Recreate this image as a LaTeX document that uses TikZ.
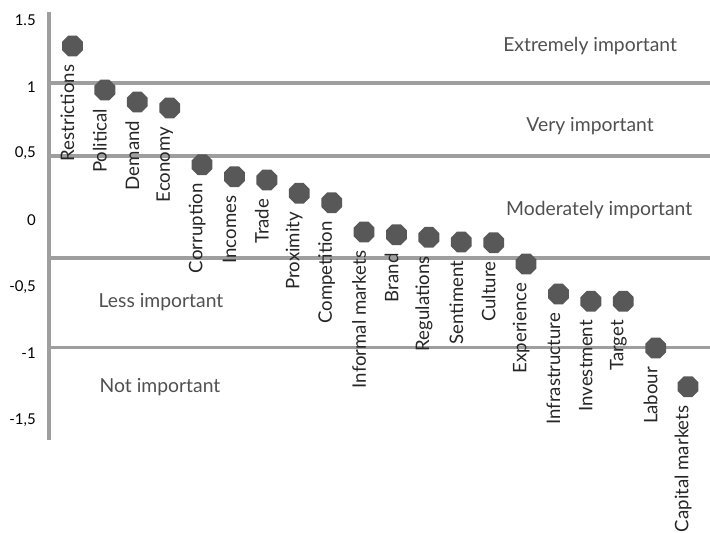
\documentclass[tikz,border=0pt]{standalone}
\usepackage{fontspec}
\setmainfont{Lato}
\usetikzlibrary{shapes.geometric}
\definecolor{dotgray}{RGB}{88,88,88}
\definecolor{linegray}{RGB}{158,158,158}
\definecolor{bandtext}{RGB}{80,80,80}
\begin{document}
\begin{tikzpicture}[x=0.648cm,y=2.667cm,
    dot/.style={regular polygon,regular polygon sides=8,fill=dotgray,inner sep=0pt,minimum size=0.45cm},
    lbl/.style={rotate=90,anchor=east,inner sep=0pt,text=black!85,font=\fontsize{10.6}{12}\selectfont},
    band/.style={text=bandtext,font=\fontsize{11}{13}\selectfont},
    tick/.style={anchor=east,inner sep=0pt,font=\fontsize{8.5}{10}\selectfont}]
  \useasboundingbox (-0.98cm,-6.24cm) rectangle (13.22cm,4.4cm);
  \begin{scope}[linegray,line width=1.8pt]
    \draw (0,1.56) -- (0,-1.65);
    \draw (0,1.028) -- (20.4,1.028);
    \draw (0,0.48) -- (20.4,0.48);
    \draw (0,-0.285) -- (20.4,-0.285);
    \draw (0,-0.953) -- (20.4,-0.953);
  \end{scope}
  \path
    (-0.4,1.5) node[tick] {1.5}
    (-0.4,1) node[tick] {1}
    (-0.4,0.5) node[tick] {0,5}
    (-0.4,0) node[tick] {0}
    (-0.4,-0.5) node[tick] {-0,5}
    (-0.4,-1) node[tick] {-1}
    (-0.4,-1.5) node[tick] {-1,5};
  \path
    (16.70,1.305) node[band] (extreme) {Extremely important}
    (16.70,0.705) node[band] (very) {Very important}
    (16.98,0.075) node[band] (moderate) {Moderately important}
    (3.457,-0.615) node[band] (less) {Less important}
    (3.426,-1.253) node[band] (notimp) {Not important};
  \path
    (0.725,1.305) node[dot] (restrictions) {}
    (1.725,0.975) node[dot] (political) {}
    (2.725,0.885) node[dot] (demand) {}
    (3.725,0.84) node[dot] (economy) {}
    (4.725,0.415) node[dot] (corruption) {}
    (5.725,0.325) node[dot] (incomes) {}
    (6.725,0.30) node[dot] (trade) {}
    (7.725,0.20) node[dot] (proximity) {}
    (8.725,0.13) node[dot] (competition) {}
    (9.725,-0.09) node[dot] (informal) {}
    (10.725,-0.11) node[dot] (brand) {}
    (11.725,-0.13) node[dot] (regulations) {}
    (12.725,-0.165) node[dot] (sentiment) {}
    (13.725,-0.17) node[dot] (culture) {}
    (14.725,-0.33) node[dot] (experience) {}
    (15.725,-0.555) node[dot] (infrastructure) {}
    (16.725,-0.61) node[dot] (investment) {}
    (17.725,-0.61) node[dot] (target) {}
    (18.725,-0.96) node[dot] (labour) {}
    (19.725,-1.25) node[dot] (capital) {};
  \begin{scope}[every node/.style={lbl}]
    \node at ([xshift=-0.1cm,yshift=-0.37cm]restrictions.center) {Restrictions};
    \node at ([xshift=-0.1cm,yshift=-0.37cm]political.center) {Political};
    \node at ([xshift=-0.1cm,yshift=-0.37cm]demand.center) {Demand};
    \node at ([xshift=-0.1cm,yshift=-0.37cm]economy.center) {Economy};
    \node at ([xshift=-0.1cm,yshift=-0.37cm]corruption.center) {Corruption};
    \node at ([xshift=-0.1cm,yshift=-0.37cm]incomes.center) {Incomes};
    \node at ([xshift=-0.1cm,yshift=-0.37cm]trade.center) {Trade};
    \node at ([xshift=-0.1cm,yshift=-0.37cm]proximity.center) {Proximity};
    \node at ([xshift=-0.1cm,yshift=-0.37cm]competition.center) {Competition};
    \node at ([xshift=-0.1cm,yshift=-0.37cm]informal.center) {Informal markets};
    \node at ([xshift=-0.1cm,yshift=-0.37cm]brand.center) {Brand};
    \node at ([xshift=-0.1cm,yshift=-0.37cm]regulations.center) {Regulations};
    \node at ([xshift=-0.1cm,yshift=-0.37cm]sentiment.center) {Sentiment};
    \node at ([xshift=-0.1cm,yshift=-0.37cm]culture.center) {Culture};
    \node at ([xshift=-0.1cm,yshift=-0.37cm]experience.center) {Experience};
    \node at ([xshift=-0.1cm,yshift=-0.37cm]infrastructure.center) {Infrastructure};
    \node at ([xshift=-0.1cm,yshift=-0.37cm]investment.center) {Investment};
    \node at ([xshift=-0.1cm,yshift=-0.37cm]target.center) {Target};
    \node at ([xshift=-0.1cm,yshift=-0.37cm]labour.center) {Labour};
    \node at ([xshift=-0.1cm,yshift=-0.37cm]capital.center) {Capital markets};
  \end{scope}
\end{tikzpicture}
\end{document}
